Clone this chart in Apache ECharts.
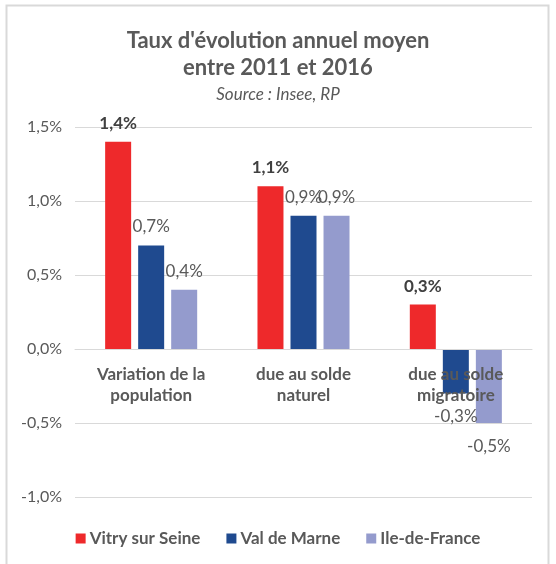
<!DOCTYPE html>
<html>
<head>
<meta charset="utf-8">
<script src="https://cdn.jsdelivr.net/npm/echarts@6/dist/echarts.min.js"></script>
<style>
  html, body { margin: 0; padding: 0; background: #fff; }
  #chart { width: 556px; height: 564px; }
</style>
</head>
<body>
<div id="chart"></div>
<script>
// données (taux en %)
var categories = ['Variation de la\npopulation', 'due au solde\nnaturel', 'due au solde\nmigratoire']
var seriesNames = ['Vitry sur Seine', 'Val de Marne', 'Ile-de-France']
var vitry = [1.4, 1.1, 0.3]
var valDeMarne = [0.7, 0.9, -0.3]
var ileDeFrance = [0.4, 0.9, -0.5]
var colors = ['#EE292B', '#1F4A8F', '#949BCD']

var font = 'Lato, "Open Sans", sans-serif'
var fmt = function (v) { return v.toFixed(1).replace('.', ',') + '%' }

function makeSeries (name, values, color, bold) {
  return {
    name: name,
    type: 'bar',
    barWidth: 26,
    barGap: '27%',
    itemStyle: { color: color },
    label: {
      show: true,
      fontFamily: font,
      fontSize: 17,
      fontWeight: bold ? 'bold' : 'normal',
      color: bold ? '#404040' : '#595959',
      formatter: function (p) { return fmt(p.value) }
    },
    data: values.map(function (v) {
      return { value: v, label: { position: v < 0 ? 'bottom' : 'top', distance: v < 0 ? 15 : 10 } }
    })
  }
}

var chart = echarts.init(document.getElementById('chart'))
chart.setOption({
  backgroundColor: '#fff',
  animation: false,
  title: [{
    text: "Taux d'évolution annuel moyen\nentre 2011 et 2016",
    left: 'center',
    top: 22,
    textStyle: { fontFamily: font, fontSize: 22, fontWeight: 'bold', color: '#595959', lineHeight: 27 }
  }, {
    text: 'Source : Insee, RP',
    left: 'center',
    top: 81,
    textStyle: { fontFamily: font, fontSize: 17, fontStyle: 'italic', fontWeight: 'normal', color: '#595959' }
  }],
  graphic: [{
    type: 'rect',
    shape: { x: 6.5, y: 5.5, width: 542, height: 600 },
    style: { fill: 'none', stroke: '#D9D9D9', lineWidth: 2 },
    silent: true
  }],
  legend: {
    bottom: 12,
    left: 'center',
    itemGap: 26,
    itemWidth: 10,
    itemHeight: 10,
    icon: 'rect',
    textStyle: { fontFamily: font, fontSize: 17, fontWeight: 'bold', color: '#595959', padding: [0, 0, 0, -1] },
    data: seriesNames
  },
  grid: { left: 75, right: 24, top: 127, bottom: 67 },
  xAxis: {
    type: 'category',
    data: categories,
    z: 5,
    offset: -148,
    axisLine: { onZero: false, lineStyle: { color: '#D9D9D9' } },
    axisTick: { show: false },
    axisLabel: { fontFamily: font, fontSize: 17, fontWeight: 'bold', color: '#595959', margin: 15, lineHeight: 21 }
  },
  yAxis: {
    type: 'value',
    min: -1,
    max: 1.5,
    interval: 0.5,
    axisLine: { show: false },
    axisTick: { show: false },
    splitLine: { lineStyle: { color: '#D9D9D9' } },
    axisLabel: { fontFamily: font, fontSize: 16, color: '#595959', margin: 13, formatter: fmt }
  },
  series: [
    makeSeries(seriesNames[0], vitry, colors[0], true),
    makeSeries(seriesNames[1], valDeMarne, colors[1], false),
    makeSeries(seriesNames[2], ileDeFrance, colors[2], false)
  ]
})
</script>
</body>
</html>
